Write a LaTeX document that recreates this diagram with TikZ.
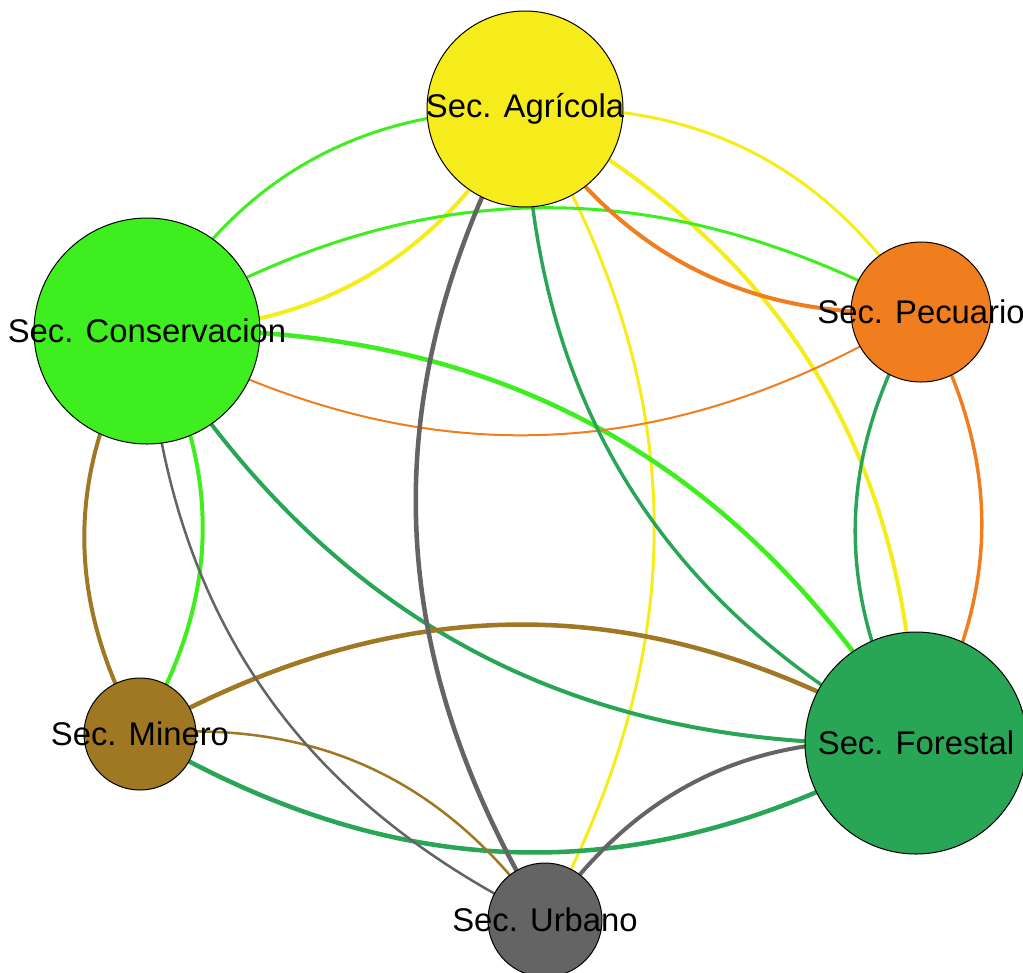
\documentclass[tikz,border=0pt]{standalone}
\usepackage{fontspec}
\setmainfont{Liberation Sans}
\usetikzlibrary{backgrounds}

\definecolor{colAgr}{RGB}{247,236,27}
\definecolor{colCon}{RGB}{63,238,30}
\definecolor{colPec}{RGB}{240,125,30}
\definecolor{colFor}{RGB}{40,165,85}
\definecolor{colMin}{RGB}{160,120,35}
\definecolor{colUrb}{RGB}{100,100,100}

\tikzset{
  sector/.style={circle, draw=black, line width=0.75pt, inner sep=0pt},
  seclabel/.style={font=\fontsize{24.6pt}{29pt}\selectfont, inner sep=0pt, text=black},
  link/.style={line width=#1, bend right=30},
  link/.default=2.25pt,
}

\begin{document}
\begin{tikzpicture}[x=0.75pt,y=0.75pt,yscale=-1,xscale=1]
\useasboundingbox (0,0) rectangle (1023,972);

% Sector nodes
\node [sector, fill=colAgr, minimum size=147pt, label={[seclabel]center:Sec. Agrícola}] (agr) at (525,109) {};
\node [sector, fill=colCon, minimum size=169.5pt, label={[seclabel]center:Sec. Conservacion}] (con) at (147,331) {};
\node [sector, fill=colPec, minimum size=105pt, label={[seclabel]center:Sec. Pecuario}] (pec) at (921,312) {};
\node [sector, fill=colFor, minimum size=166.5pt, label={[seclabel]center:Sec. Forestal}] (for) at (916,743) {};
\node [sector, fill=colMin, minimum size=84pt, label={[seclabel]center:Sec. Minero}] (min) at (140,734) {};
\node [sector, fill=colUrb, minimum size=85.5pt, label={[seclabel]center:Sec. Urbano}] (urb) at (545,920) {};

% Links, centre to centre, drawn below the nodes
\begin{scope}[on background layer]
%from Agricola
\draw [link, colAgr] (agr.center) to (pec.center);
\draw [link=3pt, colAgr] (agr.center) to (for.center);
\draw [link, colAgr] (agr.center) to (urb.center);
\draw [link=3pt, colAgr] (agr.center) to (con.center);
%from Conservacion
\draw [link, colCon] (con.center) to (agr.center);
\draw [link, colCon] (con.center) to (pec.center);
\draw [link=3.4pt, colCon] (con.center) to (for.center);
\draw [link=3pt, colCon] (con.center) to (min.center);
%from Pecuario
\draw [link=3pt, colPec] (pec.center) to (agr.center);
\draw [link=1.5pt, colPec] (pec.center) to (con.center);
\draw [link=2.6pt, colPec] (pec.center) to (for.center);
%from Forestal
\draw [link=2.6pt, colFor] (for.center) to (agr.center);
\draw [link=3pt, colFor] (for.center) to (con.center);
\draw [link=2.6pt, colFor] (for.center) to (pec.center);
\draw [link=3.4pt, colFor] (for.center) to (min.center);
%from Minero
\draw [link=3pt, colMin] (min.center) to (con.center);
\draw [link=3.4pt, colMin] (min.center) to (for.center);
\draw [link=1.9pt, colMin] (min.center) to (urb.center);
%from Urbano
\draw [link=3.4pt, colUrb] (urb.center) to (agr.center);
\draw [link=1.9pt, colUrb] (urb.center) to (con.center);
\draw [link=3pt, colUrb] (urb.center) to (for.center);
\end{scope}

\end{tikzpicture}
\end{document}
